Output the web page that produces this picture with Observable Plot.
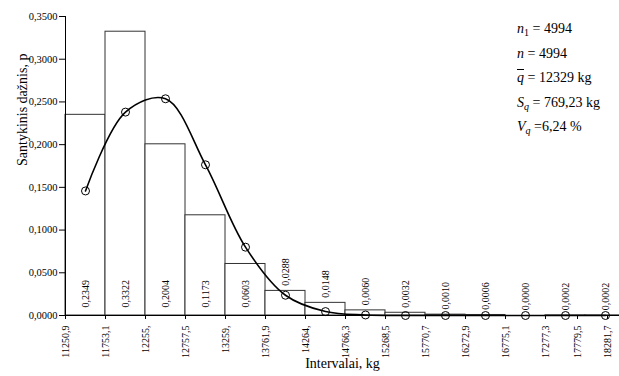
<!DOCTYPE html>
<html>
<head>
<meta charset="utf-8">
<script src="https://cdn.jsdelivr.net/npm/d3@7"></script>
<script src="https://cdn.jsdelivr.net/npm/@observablehq/plot@0.6"></script>
<style>
  html, body { margin: 0; padding: 0; background: #fff; }
  *, svg text, svg tspan { font-family: "Liberation Serif", serif !important; }
  #wrap { position: relative; width: 619px; height: 376px; }
  #stats { position: absolute; left: 517px; top: 17px; font-size: 14px; line-height: 24.5px; color: #000; z-index: 2; }
  #stats i { font-style: italic; }
  #stats sub { font-size: 10px; vertical-align: -3px; line-height: 0; }
  .ov { text-decoration: overline; }
</style>
</head>
<body>
<div id="wrap">
  <div id="stats">
    <div><i>n</i><sub>1</sub> = 4994</div>
    <div><i>n</i> = 4994</div>
    <div><i class="ov">q</i> = 12329 kg</div>
    <div><i>S</i><sub><i>q</i></sub> = 769,23 kg</div>
    <div><i>V</i><sub><i>q</i></sub> =6,24 %</div>
  </div>
</div>
<script>
// ---- data ----
const edgeLabels = ["11250,9","11753,1","12255,","12757,5","13259,","13761,9","14264,","14766,3","15268,5","15770,7","16272,9","16775,1","17277,3","17779,5","18281,7"];
const freq = [0.2349, 0.3322, 0.2004, 0.1173, 0.0603, 0.0288, 0.0148, 0.0060, 0.0032, 0.0010, 0.0006, 0.0000, 0.0002, 0.0002];
const theory = [0.1458, 0.2381, 0.2537, 0.1764, 0.0800, 0.0237, 0.0046, 0.0006, 0.0000, 0.0000, 0.0000, 0.0000, 0.0000, 0.0000];
const yTicks = [0, 0.05, 0.10, 0.15, 0.20, 0.25, 0.30, 0.35];

const comma = (v, d) => v.toFixed(d).replace(".", ",");

const bins = freq.map((v, i) => ({i, v, t: theory[i]}));
// label positions: compress the last labels so they stay in view
const xLim = 13.85;
const ticks = edgeLabels.map((lab, i) => ({pos: Math.min(i, 13.55 - (edgeLabels.length - 1 - i) * 0.75), lab}));
const tickMap = new Map(ticks.map(d => [d.pos, d.lab]));

const serif = "Liberation Serif";
const chart = Plot.plot({
  width: 619,
  height: 376,
  marginLeft: 65,
  marginRight: 0,
  marginTop: 16,
  marginBottom: 61,
  style: {fontFamily: serif, fontSize: "11px", background: "#fff", color: "#000"},
  x: {domain: [0, xLim]},
  y: {domain: [0, 0.35]},
  marks: [
    Plot.rectY(bins, {x1: d => d.i, x2: d => d.i + 1, y: "v", fill: "white", stroke: "#333", strokeWidth: 1}),
    Plot.text(bins, {
      x: d => d.i + 0.5,
      y: d => d.v > 0.04 ? 0.0094 : d.v + 0.006,
      text: d => comma(d.v, 4),
      rotate: -90, textAnchor: "start", lineAnchor: "middle", fontSize: 10, fill: "#000", fontFamily: serif
    }),
    Plot.ruleY([0], {stroke: "#000", strokeWidth: 1}),
    Plot.ruleX([0], {y1: 0, y2: 0.35, stroke: "#000", strokeWidth: 1}),
    Plot.line(bins, {x: d => d.i + 0.5, y: "t", curve: "catmull-rom", stroke: "#000", strokeWidth: 1.6}),
    Plot.dot(bins, {x: d => d.i + 0.5, y: "t", r: 4, stroke: "#000", strokeWidth: 1, fill: "none"}),
    Plot.axisY({ticks: yTicks, tickFormat: d => comma(d, 4), tickSize: 6, tickPadding: 2, fontSize: 10.5, fontFamily: serif, label: null}),
    Plot.axisX({ticks: ticks.map(d => d.pos), tickFormat: d => tickMap.get(d), tickRotate: -90, tickSize: 4, tickPadding: 6, fontSize: 10, fontFamily: serif, label: null}),
    Plot.text(["Santykinis dažnis, p"], {frameAnchor: "left", dx: -43, rotate: -90, fontSize: 14, fontFamily: serif, fill: "#000"}),
    Plot.text(["Intervalai, kg"], {frameAnchor: "bottom", dy: 52, fontSize: 14, fontFamily: serif, fill: "#000"})
  ]
});

document.getElementById("wrap").appendChild(chart);
</script>
</body>
</html>
